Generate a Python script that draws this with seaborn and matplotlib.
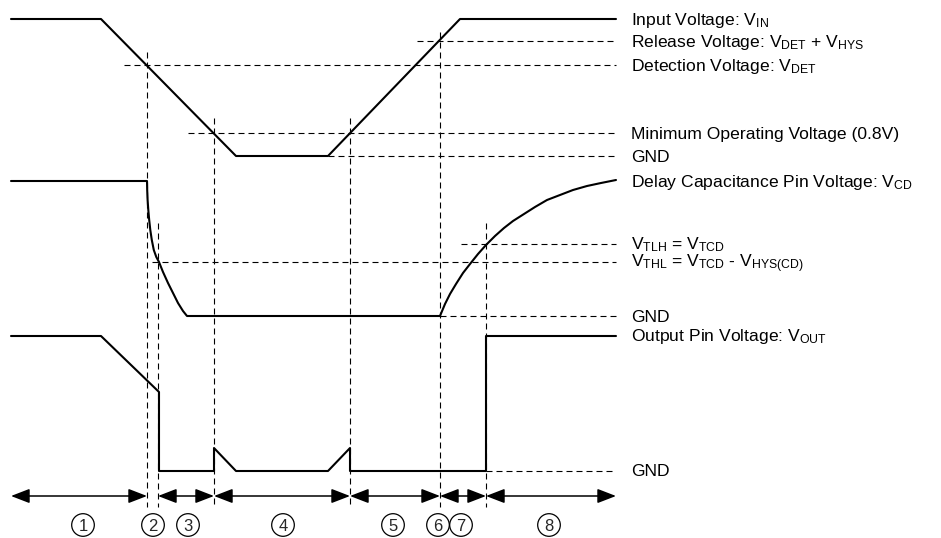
import matplotlib
matplotlib.use("Agg")
import matplotlib.pyplot as plt
import seaborn as sns

# Waveforms (x = time position, y = drawn level; y axis runs downward)
t_vin = [11, 101, 236, 328, 460, 616]
v_vin = [19, 19, 156, 156, 19, 19]

t_vcd = [11, 147, 147.2, 147.6, 148.3, 149.2, 150.3, 151.8, 153.8, 156.3, 159,
         163, 168, 173, 178, 183, 187,
         440, 445, 450, 456, 463, 470, 478, 486, 495, 504, 513, 524, 535,
         547, 560, 573, 587, 601, 616]
v_vcd = [181, 181, 190, 200, 210, 220, 230, 240, 250, 257, 262,
         272, 283, 293, 303, 311, 316,
         316, 304, 294, 284, 273, 264, 254, 245, 236, 228, 221, 214, 207,
         200, 195, 190, 186, 183, 180]

t_vout = [11, 101, 159, 159, 214, 214, 236, 328, 350, 350, 486, 486, 616]
v_vout = [336, 336, 392, 471, 471, 448, 471, 471, 448, 471, 471, 336, 336]

# Reference levels: (level, start of dashed line)
ref_levels = [41, 65, 133, 156, 244, 262, 316, 471]
ref_starts = [417, 124, 188, 328, 461, 152, 440, 486]
ref_end = 616

# Event markers (vertical dashed lines)
event_t = [147, 158, 214, 350, 440, 486]
event_top = [52, 223, 118, 118, 32, 223]
event_bottom = 507

# Labels on the right
label_y = [19, 41, 65, 133, 156, 181, 244, 262, 316, 336, 471]
label_text = [
    r"Input Voltage: $\mathregular{V_{IN}}$",
    r"Release Voltage: $\mathregular{V_{DET}}$ + $\mathregular{V_{HYS}}$",
    r"Detection Voltage: $\mathregular{V_{DET}}$",
    "Minimum Operating Voltage (0.8V)",
    "GND",
    r"Delay Capacitance Pin Voltage: $\mathregular{V_{CD}}$",
    r"$\mathregular{V_{TLH}}$ = $\mathregular{V_{TCD}}$",
    r"$\mathregular{V_{THL}}$ = $\mathregular{V_{TCD}}$ - $\mathregular{V_{HYS(CD)}}$",
    "GND",
    r"Output Pin Voltage: $\mathregular{V_{OUT}}$",
    "GND",
]

# Period arrows and numbered regions
arrow_start = [11, 158, 214, 350, 440, 486]
arrow_end = [147, 214, 350, 440, 486, 616]
arrow_y = 496
region_x = [83, 153, 188, 283, 393, 438, 461, 549]
region_num = ["1", "2", "3", "4", "5", "6", "7", "8"]
region_y = 525

sns.set_theme(style="white")
plt.rcParams["font.family"] = ["Liberation Sans", "DejaVu Sans"]

fig = plt.figure(figsize=(9.41, 5.38), dpi=100)
ax = fig.add_axes([0, 0, 1, 1])
ax.set_xlim(0, 941)
ax.set_ylim(538, 0)
ax.axis("off")

dash = (0, (5.4, 3.6))

# dashed references
for lvl, x0 in zip(ref_levels, ref_starts):
    ax.plot([x0, ref_end], [lvl, lvl], color="black", lw=0.8, ls=dash)
for x, top in zip(event_t, event_top):
    ax.plot([x, x], [top, event_bottom], color="black", lw=0.8, ls=dash)

# waveforms
for t, v in [(t_vin, v_vin), (t_vcd, v_vcd), (t_vout, v_vout)]:
    sns.lineplot(x=t, y=v, sort=False, estimator=None, color="black",
                 lw=1.5, ax=ax)

# period arrows
for a, b in zip(arrow_start, arrow_end):
    ax.annotate("", xy=(b, arrow_y), xytext=(a, arrow_y),
                arrowprops=dict(arrowstyle="<|-|>,head_length=0.57,head_width=0.22",
                                mutation_scale=20, color="black", lw=1.1,
                                shrinkA=0, shrinkB=0))

# circled region numbers
ax.scatter(region_x, [region_y] * len(region_x), s=265, facecolors="none",
           edgecolors="black", linewidths=0.9)
for x, n in zip(region_x, region_num):
    ax.text(x, region_y, n, ha="center", va="center_baseline", fontsize=12)

# right-hand labels
for y, s in zip(label_y, label_text):
    ax.text(631, y + 5.5, s, ha="left", va="baseline", fontsize=12.6,
            color="black")

fig.savefig("out.png", dpi=100)
